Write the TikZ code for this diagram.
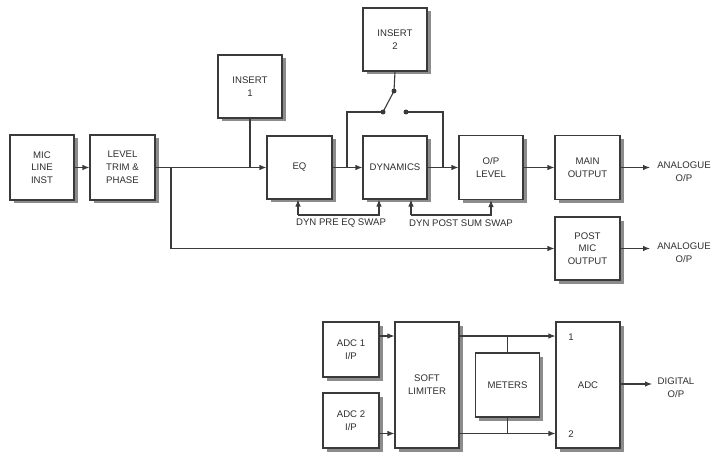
\documentclass[tikz,border=0pt]{standalone}
\usepackage{fontspec}
\setmainfont{Liberation Sans}
\usetikzlibrary{arrows.meta,shadows}
\definecolor{ln}{HTML}{3A3A3A}
\definecolor{tx}{HTML}{2E2E2E}
\tikzset{
  blk/.style={draw=ln, line width=1.1pt, fill=white, inner sep=0pt, align=center,
    text=tx, font=\fontsize{9.6}{12.8}\selectfont,
    drop shadow={shadow xshift=3.5pt, shadow yshift=-3.5pt, fill=black!45, opacity=1}},
  wire/.style={draw=ln, line width=1.1pt},
  arr/.style={wire, -{Latex[length=7pt,width=5.5pt]}},
  lbl/.style={text=tx, font=\fontsize{9.6}{12.8}\selectfont, align=center, inner sep=0pt},
  dot/.style={circle, fill=ln, inner sep=0pt, minimum size=5pt}
}
\begin{document}
\begin{tikzpicture}[x=1pt,y=-1pt]
\useasboundingbox (0,0) rectangle (717,465);
% top row
\node[blk, minimum width=64, minimum height=65] (mic) at (42,167.5) {MIC\\LINE\\INST};
\node[blk, minimum width=65, minimum height=65] (lvl) at (122.5,167.5) {LEVEL\\TRIM \&\\PHASE};
\node[blk, minimum width=64, minimum height=63] (ins1) at (250,86.5) {INSERT\\1};
\node[blk, minimum width=65, minimum height=63] (eq) at (299.5,167.5) {EQ};
\node[blk, minimum width=64, minimum height=63] (dyn) at (395,167.5) {DYNAMICS};
\node[blk, minimum width=64, minimum height=63] (ins2) at (395,39.5) {INSERT\\2};
\node[blk, minimum width=64, minimum height=64] (opl) at (491,167.5) {O/P\\LEVEL};
\node[blk, minimum width=65, minimum height=64] (main) at (587.5,167.5) {MAIN\\OUTPUT};
\node[blk, minimum width=65, minimum height=63] (post) at (587.5,248.5) {POST\\MIC\\OUTPUT};
% switch
\node[dot] (piv) at (394,91) {};
\node[dot] (c1) at (383,112) {};
\node[dot] (c2) at (406,112) {};
\coordinate (br) at (171,167.5);
\coordinate (tapA) at (347,167.5);
\coordinate (tapB) at (443,167.5);
\coordinate (out1) at (650,167.5);
\coordinate (out2) at (650,248.5);
\coordinate (f1) at (298,215);
\coordinate (f2) at (379,215);
\coordinate (f3) at (411,215);
\coordinate (f4) at (491,215);
\draw[arr] (mic) -- (lvl);
\draw[arr] (lvl) -- (eq);
\draw[wire] (ins1.south) -- (ins1.south |- eq.west);
\draw[arr] (br) |- (post.west);
\draw[arr] (eq) -- (dyn);
\draw[wire] (tapA) |- (c1.center);
\draw[wire] (c1.center) -- (piv.center);
\draw[wire] (ins2.south) -- (piv.center);
\draw[wire] (c2.center) -| (tapB);
\draw[arr] (dyn) -- (opl);
\draw[arr] (opl) -- (main);
\draw[arr] (main) -- (out1);
\draw[arr] (post) -- (out2);
\node[lbl] (aout1) at (684,172) {ANALOGUE\\O/P};
\node[lbl] (aout2) at (684,253) {ANALOGUE\\O/P};
% swaps
\draw[arr] (f1) -- (f1 |- eq.south);
\draw[arr] (f1) -- (f2) -- (f2 |- dyn.south);
\draw[arr] (f3) -- (f3 |- dyn.south);
\draw[arr] (f3) -- (f4) -- (f4 |- opl.south);
\node[lbl] (sw1) at (341,223.5) {DYN PRE EQ SWAP};
\node[lbl] (sw2) at (461,223.5) {DYN POST SUM SWAP};
% bottom section
\node[blk, minimum width=56, minimum height=55] (adc1) at (351,349.5) {ADC 1\\I/P};
\node[blk, minimum width=56, minimum height=55] (adc2) at (351,420.5) {ADC 2\\I/P};
\node[blk, minimum width=64, minimum height=126] (soft) at (427,385) {SOFT\\LIMITER};
\node[blk, minimum width=64, minimum height=64] (met) at (507.5,385) {METERS};
\node[blk, minimum width=64, minimum height=126] (adc) at (588,385) {ADC};
\coordinate (r1) at (0,336);
\coordinate (r2) at (0,433.5);
\coordinate (dout) at (652,384);
\draw[arr] (adc1.east |- r1) -- (soft.west |- r1);
\draw[arr] (adc2.east |- r2) -- (soft.west |- r2);
\draw[arr] (soft.east |- r1) -- (adc.west |- r1);
\draw[arr] (soft.east |- r2) -- (adc.west |- r2);
\draw[wire] (met.north) -- (met.north |- r1);
\draw[wire] (met.south) -- (met.south |- r2);
\draw[arr] (adc.east |- dout) -- (dout);
\node[lbl] (n1) at (571,337) {1};
\node[lbl] (n2) at (571,434) {2};
\node[lbl] (dig) at (676,388) {DIGITAL\\O/P};
\end{tikzpicture}
\end{document}
